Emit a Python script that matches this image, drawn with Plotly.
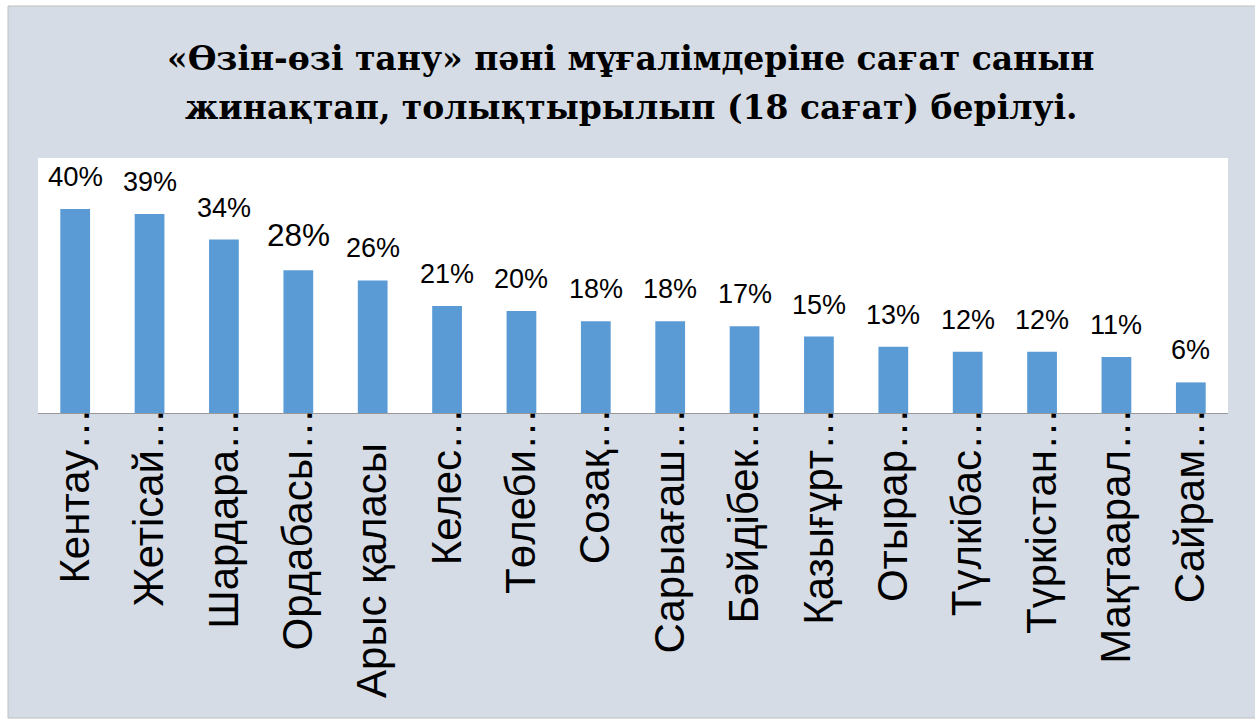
import plotly.graph_objects as go

categories = ["Кентау…", "Жетісай…", "Шардара…", "Ордабасы…", "Арыс қаласы", "Келес…",
              "Төлеби…", "Созақ…", "Сарыағаш…", "Бәйдібек…", "Қазығұрт…", "Отырар…",
              "Түлкібас…", "Түркістан…", "Мақтаарал…", "Сайрам…"]
tick_text = [c if c.endswith("…") else c + "\u00a0\u00a0\u00a0" for c in categories]
values = [40, 39, 34, 28, 26, 21, 20, 18, 18, 17, 15, 13, 12, 12, 11, 6]
label_sizes = [27.5, 27, 27, 31.5, 27, 27, 27, 27, 27, 27, 27, 27, 27, 27, 27, 27]

title_line1 = "«Өзін-өзі тану» пәні мұғалімдеріне сағат санын"
title_line2 = "жинақтап, толықтырылып (18 сағат) берілуі."

W, H = 1255, 722
L, R, T, B = 38, 27, 158, 309
pw, ph = W - L - R, H - T - B


def px(x):
    return (x - L) / pw


def py(y):
    return (H - B - y) / ph


fig = go.Figure()
fig.add_trace(go.Bar(
    x=categories, y=values,
    marker=dict(color="#5B9BD5", line=dict(width=0)),
    width=0.4,
    hoverinfo="skip",
))

annotations = []
for c, v, s in zip(categories, values, label_sizes):
    annotations.append(dict(
        x=c, y=v, xref="x", yref="y", text=f"{v}%", showarrow=False,
        yanchor="bottom", xanchor="center", yshift=15,
        font=dict(family="Liberation Sans, Arial", size=s, color="#000000"),
    ))

title_font = dict(family="DejaVu Serif", size=33, color="#000000")
for i, line in enumerate([title_line1, title_line2]):
    annotations.append(dict(
        xref="paper", yref="paper", x=px(631), y=py(37 + 49 * i),
        text=f"<b>{line}</b>", showarrow=False, xanchor="center", yanchor="top",
        font=title_font,
    ))

shapes = [
    dict(type="rect", xref="paper", yref="paper", layer="below",
         x0=px(8), x1=px(W + 5), y0=py(718), y1=py(6),
         fillcolor="#D6DCE5", line=dict(color="#BFBFBF", width=1)),
    dict(type="rect", xref="paper", yref="paper", layer="below",
         x0=0, x1=1, y0=0, y1=1, fillcolor="#FFFFFF", line=dict(width=0)),
]

fig.update_layout(
    width=W, height=H,
    margin=dict(l=L, r=R, t=T, b=B, pad=0),
    paper_bgcolor="#FFFFFF",
    plot_bgcolor="#FFFFFF",
    showlegend=False,
    xaxis=dict(
        tickangle=-90, tickfont=dict(family="Liberation Sans, Arial", size=42, color="#000000"),
        tickmode="array", tickvals=categories, ticktext=tick_text,
        ticklabelstandoff=-23,
        showline=True, linecolor="#999999", linewidth=1.3, ticks="", showgrid=False,
        zeroline=False, fixedrange=True,
    ),
    yaxis=dict(range=[0, 50], visible=False, showgrid=False, zeroline=False, fixedrange=True),
    bargap=0.6,
    annotations=annotations,
    shapes=shapes,
)

fig.write_html("out.html", config={"displayModeBar": False},
               post_script="document.body.style.margin='0px';")
